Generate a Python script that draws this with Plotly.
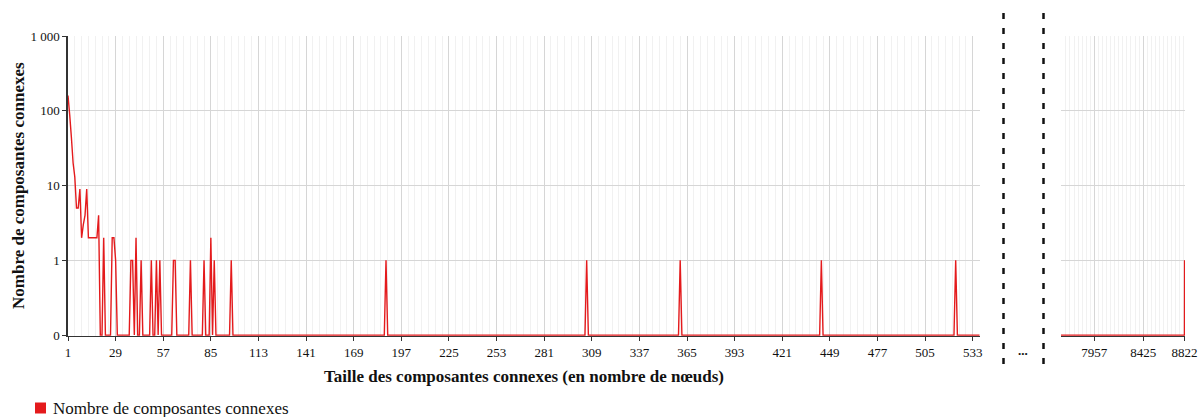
import numpy as np
import plotly.graph_objects as go

# Component sizes (in nodes) that occur at least once, and how many components have that size
sizes_nonzero = [1, 2, 3, 4, 5, 6, 7, 8, 9, 10, 11, 12, 13, 14, 15, 16, 17, 18, 19,
                 22, 27, 28, 29, 38, 39, 41, 44, 50, 53, 55, 63, 64, 73, 81, 85, 87, 97,
                 188, 306, 361, 444, 523, 8822]
counts_nonzero = [160, 88, 44, 20, 13, 5, 5, 9, 2, 3, 4, 9, 2, 2, 2, 2, 2, 2, 4,
                  2, 2, 2, 1, 1, 1, 2, 1, 1, 1, 1, 1, 1, 1, 1, 2, 1, 1,
                  1, 1, 1, 1, 1, 1]
largest_size = 8822

# Axis ticks
y_tick_values = [0, 1, 10, 100, 1000]
y_tick_text = ["0", "1", "10", "100", "1 000"]
tail_tick_values = [7957, 8425, 8822]

series_name = "Nombre de composantes connexes"

# every size from 1 to the largest; sizes not listed have no component
sizes = np.arange(1, largest_size + 1)
counts = np.zeros(largest_size, dtype=int)
counts[np.array(sizes_nonzero) - 1] = counts_nonzero


def to_axis(v):
    """Logarithmic scale with 0 placed one decade below 1."""
    v = np.asarray(v, dtype=float)
    return np.where(v > 0, 1 + np.log10(np.maximum(v, 1)), 0.0)


RED = "#e41a1c"
SERIF = "Liberation Serif"
MAJOR_GRID = "#d6d6d6"
MINOR_GRID = "#f1f1f1"
AXIS = "#333333"
TEXT = "#111111"

fig = go.Figure()
for xa in ("x", "x2"):
    fig.add_trace(go.Scatter(
        x=sizes, y=to_axis(counts), customdata=counts,
        mode="lines", line=dict(color=RED, width=1.4, simplify=False),
        xaxis=xa, yaxis="y" if xa == "x" else "y2",
        name=series_name, showlegend=False,
        hovertemplate="%{x} : %{customdata}<extra></extra>",
    ))

left_px, right_px = 68, 1185
plot_w = right_px - left_px
y_bottom = -0.012  # keeps the zero line fully inside the plotting area


def px_x(p):
    return (p - left_px) / plot_w


def px_y(p):
    return (336 - p) / 300


y_axis_common = dict(
    range=[y_bottom, 4], tickmode="array",
    tickvals=list(to_axis(y_tick_values)), ticktext=y_tick_text,
    showgrid=True, gridcolor=MAJOR_GRID, gridwidth=1, zeroline=False,
    tickfont=dict(family=SERIF, size=13, color=TEXT),
)

shapes = [
    dict(type="line", xref="paper", yref="paper",
         x0=px_x(xp), x1=px_x(xp), y0=px_y(13), y1=px_y(366),
         line=dict(color=TEXT, width=2.5, dash="6px,9px"))
    for xp in (1003.5, 1043.5)
]
# legend key
shapes.append(dict(type="rect", xref="paper", yref="paper",
                   x0=px_x(35), x1=px_x(46), y0=px_y(402.5), y1=px_y(413.5),
                   fillcolor=RED, line=dict(width=0)))

fig.update_layout(
    width=1200, height=417,
    margin=dict(l=left_px, r=1200 - right_px, t=36, b=81, autoexpand=False),
    paper_bgcolor="white", plot_bgcolor="white",
    font=dict(family=SERIF, color=TEXT),
    xaxis=dict(
        domain=[0, px_x(979.5)], range=[1, 537],
        tick0=1, dtick=28, showgrid=True, gridcolor=MAJOR_GRID, gridwidth=1,
        minor=dict(tick0=1, dtick=4, showgrid=True, gridcolor=MINOR_GRID, gridwidth=1),
        ticks="outside", ticklen=4, tickcolor=AXIS,
        showline=True, linecolor=AXIS, linewidth=1.2, zeroline=False,
        layer="below traces",
        tickfont=dict(family=SERIF, size=13, color=TEXT),
    ),
    xaxis2=dict(
        domain=[px_x(1061), 1], range=[7637, 8826], anchor="y2",
        tickmode="array", tickvals=tail_tick_values,
        showgrid=True, gridcolor=MAJOR_GRID, gridwidth=1,
        minor=dict(tick0=7957, dtick=39, showgrid=True, gridcolor=MINOR_GRID, gridwidth=1),
        ticks="outside", ticklen=4, tickcolor=AXIS,
        showline=True, linecolor=AXIS, linewidth=1.2, zeroline=False,
        layer="below traces",
        tickfont=dict(family=SERIF, size=13, color=TEXT),
    ),
    yaxis=dict(
        **y_axis_common, anchor="x",
        ticks="outside", ticklen=4, tickcolor=AXIS,
        showline=True, linecolor=AXIS, linewidth=1.5,
        layer="below traces",
    ),
    yaxis2=dict(
        **{k: v for k, v in y_axis_common.items() if k != "tickfont"},
        anchor="x2", matches="y", showticklabels=False, showline=False,
    ),
    showlegend=False,
    annotations=[
        dict(text="<b>" + series_name + "</b>", textangle=-90,
             xref="paper", yref="paper", x=px_x(18), y=0.5,
             xanchor="center", yanchor="middle", showarrow=False,
             font=dict(family=SERIF, size=17, color=TEXT)),
        dict(text="<b>Taille des composantes connexes (en nombre de nœuds)</b>",
             xref="paper", yref="paper", x=px_x(523.5), y=px_y(376),
             xanchor="center", yanchor="middle", showarrow=False,
             font=dict(family=SERIF, size=17, color=TEXT)),
        dict(text="<b>...</b>", xref="paper", yref="paper",
             x=px_x(1023), y=px_y(350), xanchor="center", yanchor="middle",
             showarrow=False, font=dict(family=SERIF, size=13, color=TEXT)),
        dict(text=series_name, xref="paper", yref="paper",
             x=px_x(51), y=px_y(408), xanchor="left", yanchor="middle",
             showarrow=False, font=dict(family=SERIF, size=17, color=TEXT)),
    ],
    shapes=shapes,
)

fig.write_html("out.html")
